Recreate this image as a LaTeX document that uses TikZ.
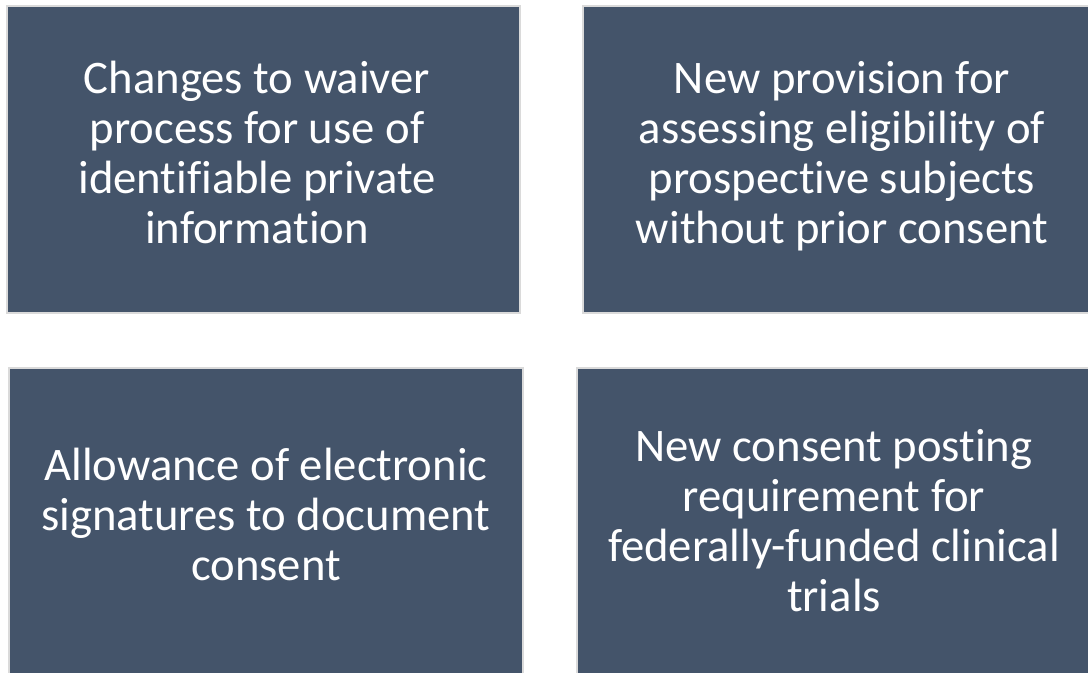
\documentclass[tikz,border=0pt]{standalone}
\usepackage{fontspec}
\setmainfont[Ligatures=NoCommon]{Carlito}
\definecolor{boxfill}{HTML}{44546A}
\definecolor{boxline}{HTML}{DADADA}
\tikzset{every picture/.style={line width=0.75pt}}
\tikzset{
  panel/.style={draw=boxline, line width=1.5pt, fill=boxfill},
  paneltext/.style={text=white, align=center, inner sep=0.75pt, font=\fontsize{35}{37.5}\selectfont}
}

\begin{document}
\begin{tikzpicture}[x=0.75pt,y=0.75pt,yscale=-1,xscale=1]
\useasboundingbox (0,0) rectangle (1088,673);

%Shape: Rectangle
\draw [panel] (7,6) rectangle (520,313) ;
%Shape: Rectangle
\draw [panel] (583,6) rectangle (1090,313) ;
%Shape: Rectangle
\draw [panel] (9,368) rectangle (523,675) ;
%Shape: Rectangle
\draw [panel] (577,368) rectangle (1090,675) ;

% Text Node
\node (waiver) [paneltext] at (257,152) {Changes to waiver\\process for use of\\identifiable private\\information};
% Text Node
\node (eligibility) [paneltext] at (842,156) {New provision for\\assessing eligibility of\\prospective subjects\\without prior consent};
% Text Node
\node (signatures) [paneltext] at (266,514) {Allowance of electronic\\signatures to document\\consent};
% Text Node
\node (posting) [paneltext] at (834,521) {New consent posting\\requirement for\\federally-funded clinical\\trials};

\end{tikzpicture}
\end{document}
